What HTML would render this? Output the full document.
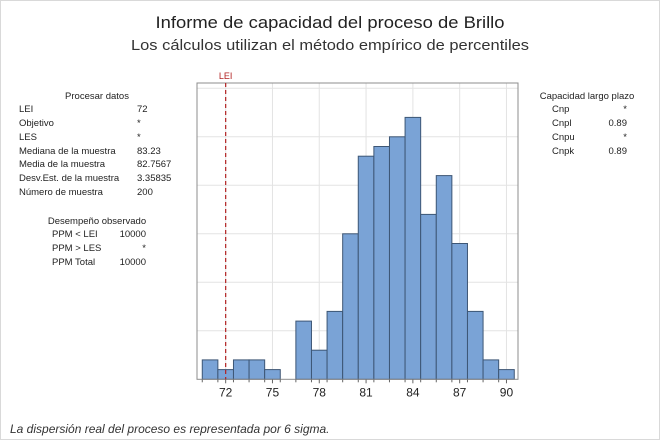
<!DOCTYPE html>
<html><head><meta charset="utf-8">
<style>
html,body{margin:0;padding:0;background:#fff;}
svg{display:block;font-family:"Liberation Sans",sans-serif;}
</style></head>
<body>
<svg id="chart" width="660" height="440" viewBox="0 0 660 440" xmlns="http://www.w3.org/2000/svg">
<rect x="0.5" y="0.5" width="659" height="439" fill="#fff" stroke="#d9d9d9"/>
<text x="330" y="28" text-anchor="middle" font-size="17" fill="#222" textLength="349" lengthAdjust="spacingAndGlyphs">Informe de capacidad del proceso de Brillo</text>
<text x="330" y="50" text-anchor="middle" font-size="15" fill="#333" textLength="398" lengthAdjust="spacingAndGlyphs">Los cálculos utilizan el método empírico de percentiles</text>

<g font-size="9.5" fill="#222">
<text x="97" y="99" text-anchor="middle">Procesar datos</text>
<text x="19" y="112">LEI</text><text x="137" y="112">72</text>
<text x="19" y="126">Objetivo</text><text x="137" y="126">*</text>
<text x="19" y="140">LES</text><text x="137" y="140">*</text>
<text x="19" y="154">Mediana de la muestra</text><text x="137" y="154">83.23</text>
<text x="19" y="167">Media de la muestra</text><text x="137" y="167">82.7567</text>
<text x="19" y="181">Desv.Est. de la muestra</text><text x="137" y="181">3.35835</text>
<text x="19" y="195">Número de muestra</text><text x="137" y="195">200</text>
</g>
<g font-size="9.5" fill="#222">
<text x="97" y="224" text-anchor="middle">Desempeño observado</text>
<text x="52" y="237">PPM &lt; LEI</text><text x="146" y="237" text-anchor="end">10000</text>
<text x="52" y="251">PPM &gt; LES</text><text x="146" y="251" text-anchor="end">*</text>
<text x="52" y="265">PPM Total</text><text x="146" y="265" text-anchor="end">10000</text>
</g>
<g font-size="9.5" fill="#222">
<text x="587" y="99" text-anchor="middle">Capacidad largo plazo</text>
<text x="552" y="112">Cnp</text><text x="627" y="112" text-anchor="end">*</text>
<text x="552" y="126">Cnpl</text><text x="627" y="126" text-anchor="end">0.89</text>
<text x="552" y="140">Cnpu</text><text x="627" y="140" text-anchor="end">*</text>
<text x="552" y="154">Cnpk</text><text x="627" y="154" text-anchor="end">0.89</text>
</g>
<text x="10" y="433" font-size="12" font-style="italic" fill="#333">La dispersión real del proceso es representada por 6 sigma.</text>
<g id="plot"></g>
</svg>
<script>
const binStarts=[70.5,71.5,72.5,73.5,74.5,75.5,76.5,77.5,78.5,79.5,80.5,81.5,82.5,83.5,84.5,85.5,86.5,87.5,88.5,89.5];
const counts=[2,1,2,2,1,0,6,3,7,15,23,24,25,27,17,21,14,7,2,1];
const xTicks=[72,75,78,81,84,87,90];
const yGrid=[5,10,15,20,25,30];
const lsl=72;
const binWidth=1;
const NS="http://www.w3.org/2000/svg";
const g=document.getElementById('plot');
const X=v=>225.67+(v-72)*15.6;
const Y=c=>379.3-c*9.7;
const L=197,R=518,T=83,B=379.3;
function mk(t,a){const e=document.createElementNS(NS,t);for(const k in a)e.setAttribute(k,a[k]);g.appendChild(e);return e;}
let e=mk('rect',{x:L,y:T,width:R-L,height:B-T,fill:'#fff'});


yGrid.forEach(c=>{const l=mk('line',{x1:L,x2:R,y1:Y(c),y2:Y(c),stroke:'#e3e3e3'});

});
xTicks.forEach(v=>{const l=mk('line',{x1:X(v),x2:X(v),y1:T,y2:B,stroke:'#e3e3e3'});

});
binStarts.forEach((s,i)=>{if(!counts[i])return;const r=mk('rect',{x:X(s),y:Y(counts[i]),width:X(s+binWidth)-X(s),height:Y(0)-Y(counts[i]),fill:'#7aa3d6',stroke:'#3d5675','stroke-width':1});

});
e=mk('rect',{x:L,y:T,width:R-L,height:B-T,fill:'none',stroke:'#8c8c8c'});


binStarts.forEach(s=>{const l=mk('line',{x1:X(s),x2:X(s),y1:B,y2:B+3,stroke:'#666'});

});
xTicks.forEach(v=>{const l=mk('line',{x1:X(v),x2:X(v),y1:B,y2:B+4,stroke:'#666'});


const t=mk('text',{x:X(v),y:B+17,'text-anchor':'middle','font-size':12,fill:'#222'});t.textContent=v;

});
e=mk('line',{x1:X(lsl),x2:X(lsl),y1:T,y2:B,stroke:'#b22222','stroke-dasharray':'4,3','stroke-width':1.2});


e=mk('text',{x:X(lsl),y:T-4,'text-anchor':'middle','font-size':9,fill:'#b22222'});e.textContent='LEI';


</script>
</body></html>
